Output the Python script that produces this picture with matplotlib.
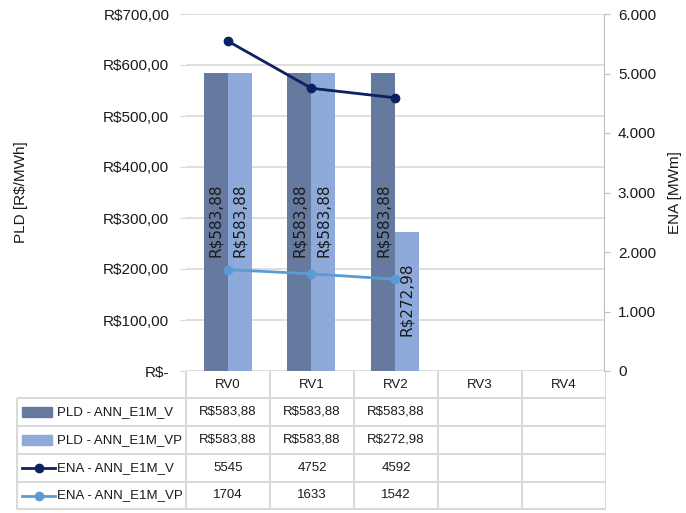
import matplotlib.pyplot as plt
from matplotlib.patches import Rectangle
from matplotlib.lines import Line2D
import matplotlib.ticker as mticker

# data
categories = ['RV0', 'RV1', 'RV2', 'RV3', 'RV4']
pld_v = [583.88, 583.88, 583.88]
pld_vp = [583.88, 583.88, 272.98]
ena_v = [5545, 4752, 4592]
ena_vp = [1704, 1633, 1542]
series_names = ['PLD - ANN_E1M_V', 'PLD - ANN_E1M_VP', 'ENA - ANN_E1M_V', 'ENA - ANN_E1M_VP']

c_dark_bar = '#667aa0'
c_light_bar = '#8eaadb'
c_dark_line = '#0b2161'
c_light_line = '#5b9bd5'
grid_c = '#d9d9d9'
txt_c = '#1a1a1a'

plt.rcParams['font.family'] = ['Liberation Sans', 'DejaVu Sans']

W, H = 686, 513
fig = plt.figure(figsize=(W / 100, H / 100), dpi=100)


def px_ax(x0, y0, x1, y1):
    return fig.add_axes([x0 / W, 1 - y1 / H, (x1 - x0) / W, (y1 - y0) / H])


def money(v):
    return 'R${:.2f}'.format(v).replace('.', ',')


ax = px_ax(186, 14, 604, 371)
ax.set_xlim(-0.5, 4.5)
ax.set_ylim(0, 700)
ax.set_yticks(range(0, 701, 100))
ax.yaxis.set_major_formatter(mticker.FuncFormatter(
    lambda v, p: 'R$-' if v == 0 else money(v)))
ax.grid(axis='y', color=grid_c, lw=1.2)
ax.set_axisbelow(True)
ax.set_xticks([])
for s in ['top', 'right', 'left', 'bottom']:
    ax.spines[s].set_visible(False)
ax.tick_params(axis='y', length=4, color=grid_c, labelsize=11, labelcolor=txt_c, pad=8)
ax.set_ylabel('PLD [R$/MWh]', fontsize=11, color=txt_c)
ax.yaxis.set_label_coords(-0.378, 0.5)

w = 0.286
x_v = [i - w / 2 for i in range(len(pld_v))]
x_vp = [i + w / 2 for i in range(len(pld_vp))]
ax.bar(x_v, pld_v, width=w, color=c_dark_bar, zorder=2)
ax.bar(x_vp, pld_vp, width=w, color=c_light_bar, zorder=2)
lab_kw = dict(rotation=90, ha='center', fontsize=11, family='DejaVu Sans', color=txt_c, zorder=5)
for xs_, vals in [(x_v, pld_v), (x_vp, pld_vp)]:
    for x, v in zip(xs_, vals):
        if v > 400:
            ax.text(x, 296, money(v), va='center', **lab_kw)
        else:
            ax.text(x, v - 60, money(v), va='top', **lab_kw)

ax2 = ax.twinx()
ax2.set_ylim(0, 6000)
ax2.set_yticks(range(0, 6001, 1000))
ax2.yaxis.set_major_formatter(mticker.FuncFormatter(
    lambda v, p: '{:,.0f}'.format(v).replace(',', '.')))
for s in ['top', 'left', 'bottom']:
    ax2.spines[s].set_visible(False)
ax2.spines['right'].set_color('#bfbfbf')
ax2.tick_params(axis='y', length=4, color='#bfbfbf', labelsize=11, labelcolor=txt_c, pad=6)
ax2.set_ylabel('ENA [MWm]', fontsize=11, color=txt_c)
ax2.yaxis.set_label_coords(1.153, 0.5)
xs = list(range(len(ena_v)))
ax2.plot(xs, ena_v, color=c_dark_line, lw=2, marker='o', ms=6, zorder=4)
ax2.plot(xs, ena_vp, color=c_light_line, lw=2, marker='o', ms=6, zorder=4)

# data table below
tb = px_ax(14, 371, 606, 510)
tb.set_xlim(0, 592)
tb.set_ylim(139, 0)
tb.axis('off')
col_x = [172 + 84 * i for i in range(6)]
row_y = [0, 27, 55, 83, 111, 138]
lc = dict(color=grid_c, lw=1.5, solid_capstyle='butt')
for x in col_x:
    tb.plot([x, x], [0, 138], **lc)
tb.plot([3, 3], [27, 138], **lc)
for y in row_y[1:]:
    tb.plot([3, col_x[-1]], [y, y], **lc)
for i, c in enumerate(categories):
    tb.text(col_x[i] + 42, 13.5, c, ha='center', va='center', fontsize=9.5, color=txt_c)

rows = [
    [money(v) for v in pld_v],
    [money(v) for v in pld_vp],
    [str(v) for v in ena_v],
    [str(v) for v in ena_vp],
]
keys = [('bar', c_dark_bar), ('bar', c_light_bar), ('line', c_dark_line), ('line', c_light_line)]
for r, (name, vals, key) in enumerate(zip(series_names, rows, keys)):
    yc = (row_y[r + 1] + row_y[r + 2]) / 2
    kind, col = key
    if kind == 'bar':
        tb.add_patch(Rectangle((8, yc - 5), 30, 10, color=col))
    else:
        tb.add_line(Line2D([8, 41], [yc, yc], color=col, lw=2))
        tb.plot([24.5], [yc], marker='o', ms=6, color=col)
    tb.text(43, yc, name, ha='left', va='center', fontsize=9.5, color=txt_c)
    for i, v in enumerate(vals):
        tb.text(col_x[i] + 42, yc, v, ha='center', va='center', fontsize=9.5, color=txt_c)

fig.savefig('out.png', dpi=100)
